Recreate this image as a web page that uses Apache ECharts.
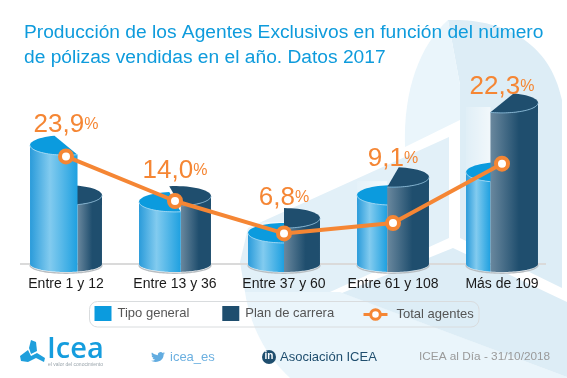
<!DOCTYPE html>
<html>
<head>
<meta charset="utf-8">
<style>
  html, body { margin: 0; padding: 0; background: #fff; }
  #chart { width: 567px; height: 378px; }
</style>
<script src="https://cdn.jsdelivr.net/npm/echarts@6/dist/echarts.min.js"></script>
</head>
<body>
<div id="chart"></div>
<script>
const categories = ['Entre 1 y 12', 'Entre 13 y 36', 'Entre 37 y 60', 'Entre 61 y 108', 'Más de 109']
const tipoGeneral = [26.4, 13.8, 6.9, 15.3, 20.4]
const planCarrera = [15.3, 15.1, 10.2, 19.3, 35.8]
const totalAgentes = [23.9, 14.0, 6.8, 9.1, 22.3]
// % of each cylinder's width taken by Tipo general
const shareGeneral = [66, 58, 50, 42, 34]

const FONT = '"Liberation Sans", Arial, sans-serif'
const ORANGE = '#F58634'
const BLUE = '#0B9BDE'
const NAVY = '#1F4E6E'
const PALE = '#DDEDF6'
const PALER = '#EAF5FB'

// how far above its point each percentage label sits
const labelLift = [-32, -30, -36, -64, -77]

// the graphic component has no plain path type, so these get registered
function regPath(name, d) {
  echarts.graphic.registerShape(name, echarts.graphic.extendPath(d, {}))
}
regPath('wmTop', 'M448,20 C500,18 550,40 562,100 L562,288 L460,238 L460,85 Z')
regPath('wmTopLeft', 'M448,20 L460,85 L460,120 L405,147 C403,90 420,45 448,20 Z')
regPath('wmBottom', 'M245,292 L340,292 L567,377 L567,378 L290,378 C265,355 250,325 245,292 Z')
regPath('bird', 'M23.95 4.57 a10 10 0 0 1 -2.82 .78 a4.96 4.96 0 0 0 2.16 -2.72 c-.95 .55 -2 .96 -3.13 1.18 a4.92 4.92 0 0 0 -8.38 4.48 C7.69 8.1 4.07 6.13 1.64 3.16 a4.82 4.82 0 0 0 -.67 2.48 c0 1.71 .87 3.21 2.19 4.1 a4.9 4.9 0 0 1 -2.23 -.62 v.06 a4.92 4.92 0 0 0 3.95 4.83 a5 5 0 0 1 -2.21 .08 a4.94 4.94 0 0 0 4.6 3.42 a9.87 9.87 0 0 1 -6.1 2.1 c-.39 0 -.78 -.02 -1.17 -.06 a14 14 0 0 0 7.56 2.2 c9.05 0 14 -7.5 14 -13.98 c0 -.21 0 -.42 -.02 -.63 A9.94 9.94 0 0 0 24 4.59 z')

const chart = echarts.init(document.getElementById('chart'), null, { renderer: 'canvas' })

function arc(cx, cy, rx, ry, from, to) {
  const pts = []
  const steps = 32
  for (let i = 0; i <= steps; i++) {
    const a = from + (to - from) * i / steps
    pts.push([cx + rx * Math.cos(a), cy + ry * Math.sin(a)])
  }
  return pts
}

function cylinderPart(params, api, isGeneral) {
  const idx = api.value(0)
  const top = api.coord([idx, api.value(1)])
  const base = api.coord([idx, 0])
  const cx = top[0]
  const rx = api.size([1, 0])[0] * 0.33
  const ryTop = 10
  const ryBase = 8
  const t = (shareGeneral[idx] * 2 / 100 - 1)
  const front = Math.acos(t)

  const from = isGeneral ? front : 0
  const to = isGeneral ? Math.PI : front
  const capFrom = isGeneral ? front : front + Math.PI
  const capTo = isGeneral ? front + Math.PI : front + 2 * Math.PI

  const bodyPts = arc(cx, top[1], rx, ryTop, from, to)
    .concat(arc(cx, base[1], rx, ryBase, to, from))
  const capPts = arc(cx, top[1], rx, ryTop, capFrom, capTo)
  const rim = arc(cx, top[1], rx, ryTop, from, to)
  const edge = arc(cx, base[1] + 1.2, rx, ryBase, from, to)

  const bodyFill = isGeneral
    ? new echarts.graphic.LinearGradient(0, 0, 1, 0, [
        { offset: 0, color: '#2A9BDA' },
        { offset: 0.42, color: '#82CBEF' },
        { offset: 1, color: '#1EA0E0' }
      ])
    : new echarts.graphic.LinearGradient(0, 0, 1, 0, [
        { offset: 0, color: '#6A889E' },
        { offset: 0.6, color: NAVY },
        { offset: 1, color: NAVY }
      ])

  // whichever part crosses the centre goes in front
  const inFront = isGeneral ? shareGeneral[idx] >= 50 : shareGeneral[idx] < 50
  const z2 = inFront ? 3 : 2

  const children = [
    { type: 'polyline', z2, shape: { points: edge }, style: { fill: null, stroke: '#B9BEC2', lineWidth: 1.4 } },
    { type: 'polygon', z2, shape: { points: bodyPts }, style: { fill: bodyFill } },
    { type: 'polygon', z2, shape: { points: capPts }, style: { fill: isGeneral ? BLUE : NAVY } },
    { type: 'polyline', z2, shape: { points: rim }, style: { fill: null, stroke: isGeneral ? '#9AD5F3' : '#7FB0CE', lineWidth: 1 } }
  ]

  // faint panel left behind the light column where the dark one is taller
  if (isGeneral && planCarrera[idx] > tipoGeneral[idx]) {
    const wall = api.coord([idx, planCarrera[idx]])
    const left = cx - rx
    const split = cx + rx * t
    children.unshift({
      type: 'rect',
      z2: 1,
      shape: { x: left, y: wall[1] + 4, width: split - left, height: top[1] - wall[1] },
      style: {
        fill: new echarts.graphic.LinearGradient(0, 0, 1, 0, [
          { offset: 0, color: 'rgba(255,255,255,0.1)' },
          { offset: 1, color: 'rgba(255,255,255,0.6)' }
        ])
      }
    })
  }
  return { type: 'group', children }
}

chart.setOption({
  animation: false,
  backgroundColor: '#fff',
  textStyle: { fontFamily: FONT },
  title: {
    text: 'Producción de los Agentes Exclusivos en función del número\nde pólizas vendidas en el año. Datos 2017',
    left: 24,
    top: 20,
    padding: 0,
    textStyle: { color: '#0E9BDC', fontSize: 19.2, fontWeight: 'normal', lineHeight: 25, fontFamily: FONT }
  },
  grid: { left: 11.5, right: 10.5, top: 84, bottom: 114 },
  xAxis: {
    type: 'category',
    data: categories,
    axisTick: { show: false },
    axisLine: { show: false },
    axisLabel: { color: '#1a1a1a', fontSize: 14, margin: 13, interval: 0, fontFamily: FONT }
  },
  yAxis: { type: 'value', min: 0, max: 40, show: false },
  legend: [
    {
      left: 94.5,
      top: 306,
      padding: 0,
      icon: 'rect',
      itemWidth: 17,
      itemHeight: 15,
      itemGap: 33,
      selectedMode: false,
      data: ['Tipo general', 'Plan de carrera'],
      textStyle: { color: '#555', fontSize: 13, fontFamily: FONT, padding: [1, 0, 0, 1] }
    },
    {
      left: 362,
      top: 308,
      padding: 0,
      itemWidth: 24,
      itemHeight: 12,
      selectedMode: false,
      itemStyle: { borderWidth: 3 },
      lineStyle: { width: 3 },
      data: ['Total agentes'],
      textStyle: { color: '#555', fontSize: 13, fontFamily: FONT, padding: [0, 0, 0, 4] }
    }
  ],
  series: [
    {
      name: 'Tipo general',
      type: 'custom',
      itemStyle: { color: BLUE },
      encode: { x: 0, y: 1 },
      data: tipoGeneral.map((v, i) => [i, v]),
      renderItem: (params, api) => cylinderPart(params, api, true)
    },
    {
      name: 'Plan de carrera',
      type: 'custom',
      itemStyle: { color: NAVY },
      encode: { x: 0, y: 1 },
      data: planCarrera.map((v, i) => [i, v]),
      renderItem: (params, api) => cylinderPart(params, api, false)
    },
    {
      name: 'Total agentes',
      type: 'line',
      z: 5,
      symbol: 'circle',
      symbolSize: 12,
      lineStyle: { color: ORANGE, width: 4 },
      itemStyle: { color: '#fff', borderColor: ORANGE, borderWidth: 4 },
      data: totalAgentes.map((v, i) => ({
        value: v,
        label: {
          show: true,
          position: 'inside',
          offset: [0, labelLift[i]],
          formatter: () => '{n|' + v.toFixed(1).replace('.', ',') + '}{p|%}',
          rich: {
            n: { fontSize: 26, color: ORANGE, fontFamily: FONT },
            p: { fontSize: 16, color: ORANGE, fontFamily: FONT }
          }
        }
      }))
    }
  ],
  graphic: [
    // watermark behind the chart
    { type: 'wmTop', z: -2, style: { fill: PALE } },
    { type: 'wmTopLeft', z: -2, style: { fill: PALER } },
    { type: 'polygon', z: -2, shape: { points: [[449, 137], [449, 238], [330, 292], [245, 292], [240, 262], [248, 228]] }, style: { fill: '#E2F0F8' } },
    { type: 'wmBottom', z: -2, style: { fill: PALER } },
    { type: 'polygon', z: -2, shape: { points: [[453, 248], [567, 302], [567, 377], [342, 293]] }, style: { fill: PALE } },

    { type: 'line', z: -1, shape: { x1: 20, y1: 264, x2: 546, y2: 264 }, style: { stroke: '#DADADA', lineWidth: 2 } },
    { type: 'rect', z: -1, shape: { x: 89.5, y: 301.5, width: 389.5, height: 25.5, r: 8 }, style: { fill: 'transparent', stroke: '#D9DCDE', lineWidth: 1 } },

    // footer: logo
    { type: 'polygon', shape: { points: [[31, 340], [36, 342], [37, 351], [31, 354], [29, 348]] }, style: { fill: '#1F9FDC' } },
    { type: 'polygon', shape: { points: [[20, 356], [28, 350], [31, 356], [37, 353], [45, 358], [44, 362], [36, 358], [28, 362], [21, 361]] }, style: { fill: '#1F9FDC' } },
    { type: 'text', x: 47, y: 335, style: { text: 'Icea', fill: '#159DDE', fontSize: 29, fontWeight: 600, fontFamily: '"Open Sans", sans-serif' } },
    { type: 'text', x: 48, y: 362, style: { text: 'el valor del conocimiento', fill: '#9AA5AC', fontSize: 5, fontFamily: FONT } },

    // footer: twitter
    { type: 'bird', x: 151, y: 351, scaleX: 14 / 24, scaleY: 12 / 24, style: { fill: '#62ACE0' } },
    { type: 'text', x: 170, y: 350.5, style: { text: 'icea_es', fill: '#6CB0E0', fontSize: 13, fontFamily: FONT } },

    // footer: linkedin
    { type: 'circle', shape: { cx: 269, cy: 357, r: 7 }, style: { fill: NAVY } },
    { type: 'text', x: 264.5, y: 351.5, style: { text: 'in', fill: '#fff', fontSize: 10, fontWeight: 'bold', fontFamily: FONT } },
    { type: 'text', x: 280, y: 350.5, style: { text: 'Asociación ICEA', fill: NAVY, fontSize: 13, fontFamily: FONT } },

    { type: 'text', x: 419, y: 351, style: { text: 'ICEA al Día - 31/10/2018', fill: '#9A9A9A', fontSize: 11.8, fontFamily: FONT } }
  ]
})
</script>
</body>
</html>
